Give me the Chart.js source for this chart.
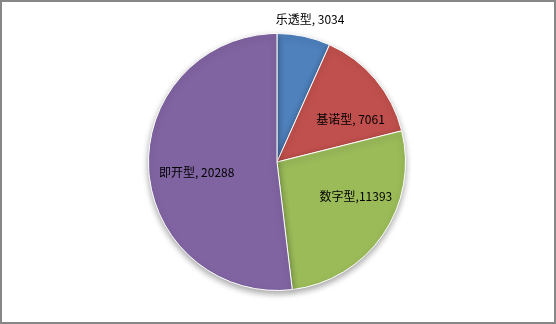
<!DOCTYPE html>
<html>
<head>
<meta charset="utf-8">
<script src="https://cdn.jsdelivr.net/npm/chart.js@4.4.1/dist/chart.umd.min.js"></script>
<style>
  body { margin: 0; background: #fff; }
  #box { width: 556px; height: 324px; box-sizing: border-box; border: 2px solid #878787; position: relative; }
  #box canvas { display: block; }
</style>
</head>
<body>
<div id="box"><canvas id="pieCanvas" width="552" height="320"></canvas></div>
<script>
// data
var categories = ["乐透型", "基诺型", "数字型", "即开型"];
var salesValues = [3034, 7061, 11393, 20288];   // values printed in the labels
var labelSeparators = [", ", ", ", ",", ", "];
// the slices in the picture are not drawn in proportion to the printed values;
// these are the shares (%) measured from the slice angles
var sliceShares = [6.7, 14.4, 27.0, 51.9];
var sliceColors = ["#4F81BD", "#C0504D", "#9BBB59", "#8064A2"];

// label spot per slice: radius factor of the arc and angle shift (degrees)
var labelSpots = [
    { r: 1.14, shift: 1 },
    { r: 0.66, shift: 10 },
    { r: 0.67, shift: -11 },
    { r: 0.63, shift: -4 }
];

var shadowPlugin = {
    id: 'pieShadow',
    beforeDatasetDraw: function(chart) {
        var ctx = chart.ctx;
        ctx.save();
        ctx.shadowColor = 'rgba(0,0,0,0.35)';
        ctx.shadowBlur = 6;
        ctx.shadowOffsetX = 0;
        ctx.shadowOffsetY = 3;
    },
    afterDatasetDraw: function(chart) {
        chart.ctx.restore();
    }
};

var labelPlugin = {
    id: 'pieLabels',
    afterDatasetsDraw: function(chart) {
        var ctx = chart.ctx;
        var meta = chart.getDatasetMeta(0);
        ctx.save();
        ctx.font = '12px "Noto Sans CJK SC", "Noto Sans", sans-serif';
        ctx.fillStyle = '#000';
        ctx.textAlign = 'center';
        ctx.textBaseline = 'middle';
        meta.data.forEach(function(arc, i) {
            var p = arc.getProps(['x', 'y', 'startAngle', 'endAngle', 'outerRadius'], true);
            var mid = (p.startAngle + p.endAngle) / 2 + labelSpots[i].shift * Math.PI / 180;
            var rr = p.outerRadius * labelSpots[i].r;
            var lx = p.x + Math.cos(mid) * rr;
            var ly = p.y + Math.sin(mid) * rr;
            ctx.fillText(categories[i] + labelSeparators[i] + salesValues[i], lx, ly);
        });
        ctx.restore();
    }
};

var config = {
    type: 'pie',
    data: {
        labels: categories,
        datasets: [{
            data: sliceShares,
            backgroundColor: sliceColors,
            borderColor: '#ffffff',
            borderWidth: 1
        }]
    },
    options: {
        responsive: false,
        animation: false,
        layout: { padding: { top: 31, bottom: 31, left: 0, right: 2 } },
        plugins: {
            legend: { display: false },
            tooltip: { enabled: false }
        }
    },
    plugins: [shadowPlugin, labelPlugin]
};
new Chart(document.getElementById('pieCanvas'), config);
</script>
</body>
</html>
